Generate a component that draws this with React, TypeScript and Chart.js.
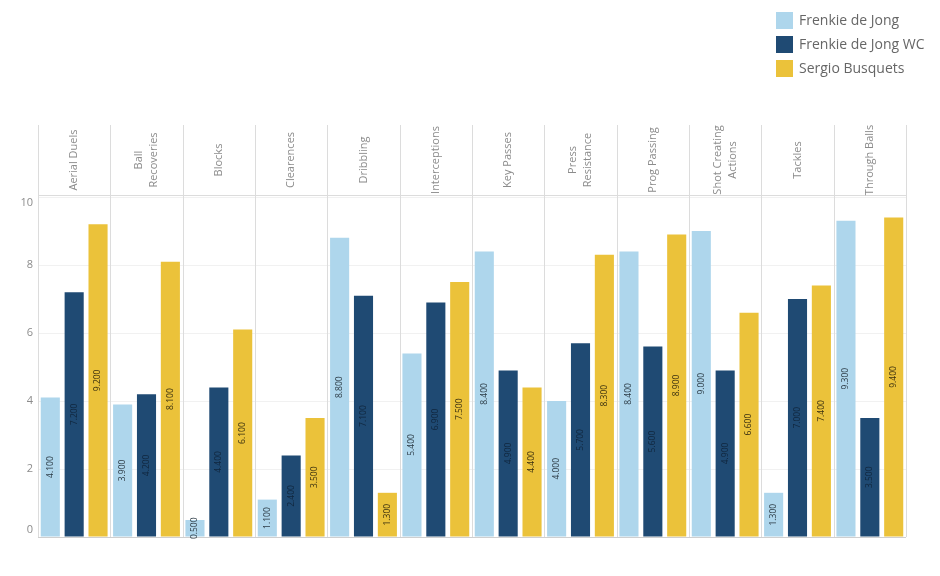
import React, { useEffect, useRef } from "react";
import { Chart, registerables } from "chart.js";

Chart.register(...registerables);

const categories: string[][] = [
  ["Aerial Duels"],
  ["Ball", "Recoveries"],
  ["Blocks"],
  ["Clearences"],
  ["Dribbling"],
  ["Interceptions"],
  ["Key Passes"],
  ["Press", "Resistance"],
  ["Prog Passing"],
  ["Shot Creating", "Actions"],
  ["Tackles"],
  ["Through Balls"],
];

const frenkie = [4.1, 3.9, 0.5, 1.1, 8.8, 5.4, 8.4, 4.0, 8.4, 9.0, 1.3, 9.3];
const frenkieWC = [7.2, 4.2, 4.4, 2.4, 7.1, 6.9, 4.9, 5.7, 5.6, 4.9, 7.0, 3.5];
const busquets = [9.2, 8.1, 6.1, 3.5, 1.3, 7.5, 4.4, 8.3, 8.9, 6.6, 7.4, 9.4];

const seriesNames = ["Frenkie de Jong", "Frenkie de Jong WC", "Sergio Busquets"];
const seriesColors = ["#aed6ec", "#1f4a73", "#ebc23a"];
const labelColors = ["#2b3a44", "#10263d", "#3a3010"];
const yTicks = [0, 2, 4, 6, 8, 10];

const FONT = "'Open Sans', 'Lato', sans-serif";

const decorPlugin = {
  id: "decor",
  beforeDatasetsDraw(chart: any) {
    const { ctx, chartArea } = chart;
    const xs = chart.scales.x;
    const ys = chart.scales.y;
    const n = categories.length;
    const catW = (chartArea.right - chartArea.left) / n;
    const headerTop = chartArea.top - 70;
    ctx.save();
    // vertical separators
    ctx.strokeStyle = "#dcdcdc";
    ctx.lineWidth = 1;
    for (let i = 0; i <= n; i++) {
      const x = Math.round(chartArea.left + i * catW) + 0.5;
      ctx.beginPath();
      ctx.moveTo(x, headerTop);
      ctx.lineTo(x, chartArea.bottom);
      ctx.stroke();
    }
    // header bottom line
    ctx.beginPath();
    ctx.moveTo(chartArea.left, Math.round(chartArea.top) + 0.5);
    ctx.lineTo(chartArea.right, Math.round(chartArea.top) + 0.5);
    ctx.stroke();
    // bottom axis line
    ctx.strokeStyle = "#cfcfcf";
    ctx.beginPath();
    ctx.moveTo(chartArea.left, Math.round(chartArea.bottom) + 0.5);
    ctx.lineTo(chartArea.right, Math.round(chartArea.bottom) + 0.5);
    ctx.stroke();

    // header labels
    ctx.fillStyle = "#8c8c8c";
    ctx.font = `11px ${FONT}`;
    ctx.textAlign = "center";
    ctx.textBaseline = "middle";
    const cy = (headerTop + chartArea.top) / 2;
    categories.forEach((lines, i) => {
      const cx = xs.getPixelForValue(i);
      const lh = 15;
      lines.forEach((line, j) => {
        const off = (j - (lines.length - 1) / 2) * lh;
        ctx.save();
        ctx.translate(cx + off, cy);
        ctx.rotate(-Math.PI / 2);
        ctx.fillText(line, 0, 0);
        ctx.restore();
      });
    });

    // y tick labels
    ctx.fillStyle = "#8c8c8c";
    ctx.font = `11px ${FONT}`;
    ctx.textAlign = "right";
    yTicks.forEach((v) => {
      let py = ys.getPixelForValue(v);
      py = Math.min(Math.max(py, chartArea.top + 8), chartArea.bottom - 7);
      ctx.fillText(String(v), chartArea.left - 5, py);
    });

    // legend
    ctx.font = `14px ${FONT}`;
    ctx.textAlign = "left";
    seriesNames.forEach((name, i) => {
      const y = 12 + i * 24;
      ctx.fillStyle = seriesColors[i];
      ctx.fillRect(776, y, 17, 17);
      ctx.fillStyle = "#666666";
      ctx.fillText(name, 799, y + 9);
    });
    ctx.restore();
  },
  afterDatasetsDraw(chart: any) {
    const { ctx } = chart;
    ctx.save();
    ctx.font = `8.5px ${FONT}`;
    ctx.textAlign = "center";
    ctx.textBaseline = "middle";
    chart.data.datasets.forEach((ds: any, di: number) => {
      const meta = chart.getDatasetMeta(di);
      meta.data.forEach((el: any, i: number) => {
        const v = ds.data[i];
        const cy = (el.y + el.base) / 2;
        ctx.save();
        ctx.translate(el.x, cy);
        ctx.rotate(-Math.PI / 2);
        ctx.fillStyle = labelColors[di];
        ctx.fillText(v.toFixed(3), 0, 0);
        ctx.restore();
      });
    });
    ctx.restore();
  },
};

export default function App() {
  const ref = useRef<HTMLCanvasElement | null>(null);
  useEffect(() => {
    if (!ref.current) return;
    const chart = new Chart(ref.current, {
      type: "bar",
      data: {
        labels: categories.map((c) => c.join(" ")),
        datasets: [frenkie, frenkieWC, busquets].map((d, i) => ({
          label: seriesNames[i],
          data: d,
          backgroundColor: seriesColors[i],
          borderWidth: 0,
          categoryPercentage: 0.99,
          barPercentage: 0.8,
        })),
      },
      options: {
        responsive: false,
        animation: false,
        layout: { padding: { left: 38, top: 195, right: 34, bottom: 39 } },
        plugins: { legend: { display: false }, tooltip: { enabled: false } },
        scales: {
          x: { display: false },
          y: {
            min: 0,
            max: 10.06,
            display: true,
            afterBuildTicks: (s: any) => {
              s.ticks = yTicks.map((v) => ({ value: v }));
            },
            ticks: { display: false },
            border: { display: false },
            grid: { color: "#f1f1f1", drawTicks: false },
          },
        },
      },
      plugins: [decorPlugin],
    });
    return () => chart.destroy();
  }, []);
  return (
    <div style={{ position: "fixed", left: 0, top: 0, width: 940, height: 576, background: "#fff" }}>
      <canvas ref={ref} width={940} height={576} style={{ width: 940, height: 576 }} />
    </div>
  );
}
